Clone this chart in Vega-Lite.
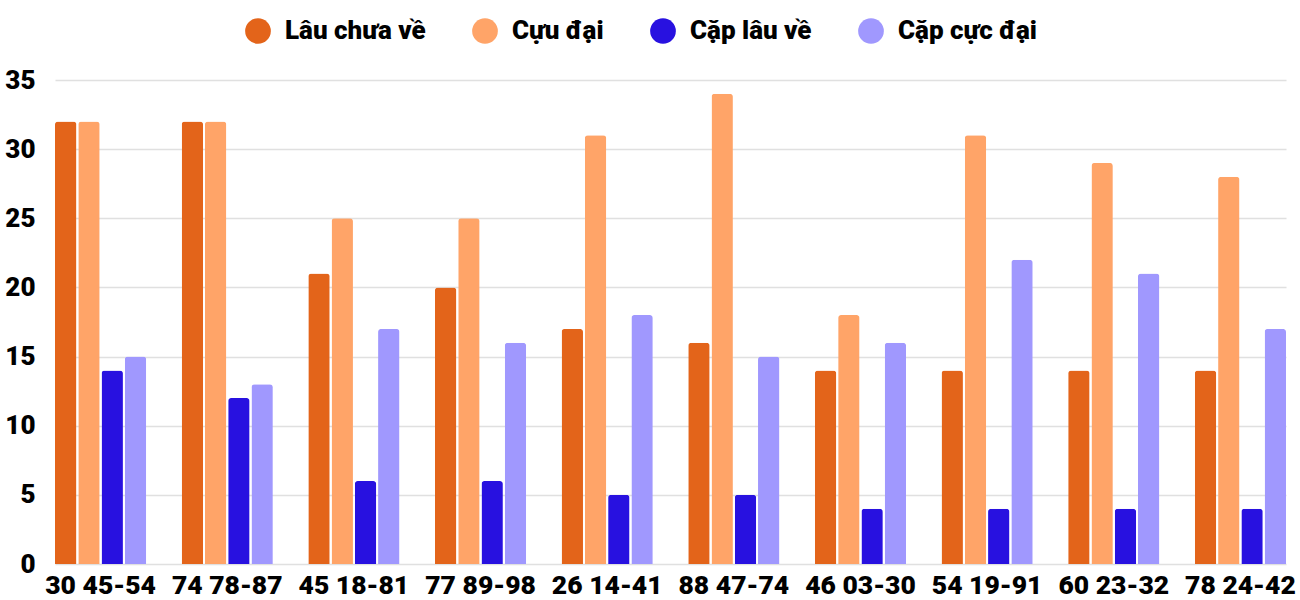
{
  "$schema": "https://vega.github.io/schema/vega-lite/v6.json",
  "width": 1231,
  "height": 484,
  "autosize": {"type": "none"},
  "padding": {"left": 55, "top": 80, "right": 14, "bottom": 36},
  "background": "white",
  "data": {
    "values": [
      {"group": "30 45-54", "series": "Lâu chưa về", "value": 32},
      {"group": "30 45-54", "series": "Cựu đại", "value": 32},
      {"group": "30 45-54", "series": "Cặp lâu về", "value": 14},
      {"group": "30 45-54", "series": "Cặp cực đại", "value": 15},
      {"group": "74 78-87", "series": "Lâu chưa về", "value": 32},
      {"group": "74 78-87", "series": "Cựu đại", "value": 32},
      {"group": "74 78-87", "series": "Cặp lâu về", "value": 12},
      {"group": "74 78-87", "series": "Cặp cực đại", "value": 13},
      {"group": "45 18-81", "series": "Lâu chưa về", "value": 21},
      {"group": "45 18-81", "series": "Cựu đại", "value": 25},
      {"group": "45 18-81", "series": "Cặp lâu về", "value": 6},
      {"group": "45 18-81", "series": "Cặp cực đại", "value": 17},
      {"group": "77 89-98", "series": "Lâu chưa về", "value": 20},
      {"group": "77 89-98", "series": "Cựu đại", "value": 25},
      {"group": "77 89-98", "series": "Cặp lâu về", "value": 6},
      {"group": "77 89-98", "series": "Cặp cực đại", "value": 16},
      {"group": "26 14-41", "series": "Lâu chưa về", "value": 17},
      {"group": "26 14-41", "series": "Cựu đại", "value": 31},
      {"group": "26 14-41", "series": "Cặp lâu về", "value": 5},
      {"group": "26 14-41", "series": "Cặp cực đại", "value": 18},
      {"group": "88 47-74", "series": "Lâu chưa về", "value": 16},
      {"group": "88 47-74", "series": "Cựu đại", "value": 34},
      {"group": "88 47-74", "series": "Cặp lâu về", "value": 5},
      {"group": "88 47-74", "series": "Cặp cực đại", "value": 15},
      {"group": "46 03-30", "series": "Lâu chưa về", "value": 14},
      {"group": "46 03-30", "series": "Cựu đại", "value": 18},
      {"group": "46 03-30", "series": "Cặp lâu về", "value": 4},
      {"group": "46 03-30", "series": "Cặp cực đại", "value": 16},
      {"group": "54 19-91", "series": "Lâu chưa về", "value": 14},
      {"group": "54 19-91", "series": "Cựu đại", "value": 31},
      {"group": "54 19-91", "series": "Cặp lâu về", "value": 4},
      {"group": "54 19-91", "series": "Cặp cực đại", "value": 22},
      {"group": "60 23-32", "series": "Lâu chưa về", "value": 14},
      {"group": "60 23-32", "series": "Cựu đại", "value": 29},
      {"group": "60 23-32", "series": "Cặp lâu về", "value": 4},
      {"group": "60 23-32", "series": "Cặp cực đại", "value": 21},
      {"group": "78 24-42", "series": "Lâu chưa về", "value": 14},
      {"group": "78 24-42", "series": "Cựu đại", "value": 28},
      {"group": "78 24-42", "series": "Cặp lâu về", "value": 4},
      {"group": "78 24-42", "series": "Cặp cực đại", "value": 17}
    ]
  },
  "mark": {"type": "bar", "cornerRadiusTopLeft": 3, "cornerRadiusTopRight": 3},
  "encoding": {
    "x": {
      "field": "group",
      "type": "nominal",
      "sort": null,
      "scale": {"paddingInner": 0.28, "paddingOuter": 0},
      "axis": {
        "title": null,
        "labelAngle": 0,
        "labelFont": "Roboto",
        "labelFontWeight": 900,
        "labelFontSize": 26.5,
        "labelColor": "#000000",
        "labelPadding": 8,
        "ticks": false,
        "domain": false,
        "grid": false
      }
    },
    "xOffset": {
      "field": "series",
      "type": "nominal",
      "sort": ["Lâu chưa về", "Cựu đại", "Cặp lâu về", "Cặp cực đại"],
      "scale": {"paddingInner": 0.08, "paddingOuter": 0}
    },
    "y": {
      "field": "value",
      "type": "quantitative",
      "scale": {"domain": [0, 35], "nice": false},
      "axis": {
        "title": null,
        "values": [0, 5, 10, 15, 20, 25, 30, 35],
        "labelFont": "Roboto",
        "labelFontWeight": 900,
        "labelFontSize": 26,
        "labelColor": "#000000",
        "labelPadding": 20,
        "ticks": false,
        "domain": false,
        "gridColor": "#e0e0e0",
        "gridWidth": 1.5
      }
    },
    "color": {
      "field": "series",
      "type": "nominal",
      "sort": ["Lâu chưa về", "Cựu đại", "Cặp lâu về", "Cặp cực đại"],
      "scale": {
        "domain": ["Lâu chưa về", "Cựu đại", "Cặp lâu về", "Cặp cực đại"],
        "range": ["#E3641A", "#FFA468", "#2811E0", "#A098FE"]
      },
      "legend": {
        "title": null,
        "orient": "none",
        "legendX": 190,
        "legendY": -62,
        "direction": "horizontal",
        "symbolType": "circle",
        "symbolSize": 660,
        "symbolStrokeWidth": 0,
        "labelFont": "Roboto",
        "labelFontWeight": 900,
        "labelFontSize": 26,
        "labelColor": "#000000",
        "labelOffset": 14,
        "columnPadding": 46
      }
    }
  },
  "config": {"view": {"stroke": null}}
}
